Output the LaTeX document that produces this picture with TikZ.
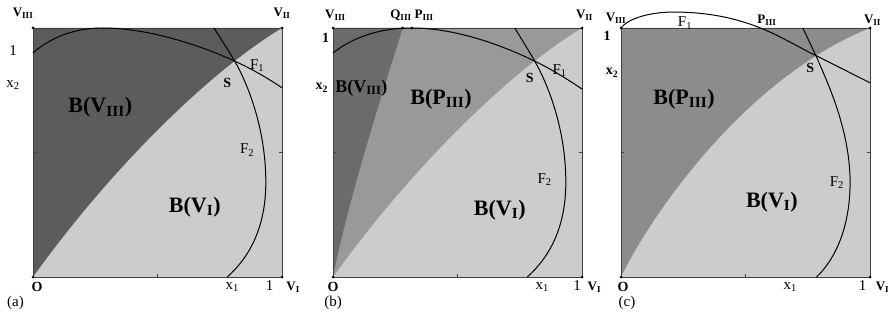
\documentclass[tikz,border=0pt]{standalone}
\usepackage{fontspec}
\setmainfont{Liberation Serif}
\newcommand{\ssub}[1]{\textsubscript{#1}}
\definecolor{lightreg}{gray}{0.8}
\definecolor{darkreg}{gray}{0.36}
\definecolor{bdarkreg}{gray}{0.42}
\definecolor{midreg}{gray}{0.6}
\definecolor{creg}{gray}{0.55}
\begin{document}
\begin{tikzpicture}[
  lbl/.style={font=\fontsize{15}{17}\selectfont, inner sep=0pt},
  blbl/.style={font=\fontsize{14}{16}\selectfont\bfseries, inner sep=0pt},
  vlbl/.style={font=\fontsize{13}{15}\selectfont\bfseries, inner sep=0pt},
  big/.style={font=\fontsize{22}{24}\selectfont\bfseries, inner sep=0pt},
  midbig/.style={font=\fontsize{18}{20}\selectfont\bfseries, inner sep=0pt},
  sqframe/.style={draw=black!75, line width=0.6pt},
  crv/.style={line width=1pt},
  dot/.style={circle, fill, inner sep=0pt, minimum size=3pt}]
  \useasboundingbox (0,0) rectangle (888pt,324pt);

  % (a)
  \begin{scope}[shift={(33pt,47pt)}, x=249pt, y=249pt]
    \fill[lightreg] (0,0) rectangle (1,1);
    \fill[darkreg] (0,0) .. controls (0.3,0.42) and (0.7,0.82) .. (1,1) -- (0,1) -- cycle;
    \draw[sqframe] (0,0) rectangle (1,1);
    \draw[sqframe] (0.5,0) -- ++(0,3pt) (0,0.5) -- ++(3pt,0) (1,0.5) -- ++(-3pt,0);
    \draw[crv] (0,0.90) .. controls (0.08,0.97) and (0.18,1) .. (0.28,1)
      .. controls (0.45,1) and (0.65,0.94) .. (0.81,0.867)
      .. controls (0.88,0.835) and (0.94,0.8) .. (1,0.76);
    \draw[crv] (0.727,1) .. controls (0.755,0.955) and (0.785,0.91) .. (0.81,0.867)
      .. controls (0.86,0.78) and (0.935,0.6) .. (0.935,0.38)
      .. controls (0.935,0.2) and (0.87,0.08) .. (0.78,0);
    \node[dot] (aO) at (0,0) {};
    \node[dot] (aVI) at (1,0) {};
    \node[dot] (aVII) at (1,1) {};
    \node[dot] (aVIII) at (0,1) {};
    \node[vlbl] (aVIIIl) at (-0.04,1.06) {V\ssub{III}};
    \node[vlbl] (aVIIl) at (1.0,1.06) {V\ssub{II}};
    \node[lbl] (aone) at (-0.08,0.91) {1};
    \node[lbl] (axtwo) at (-0.08,0.77) {x\ssub{2}};
    \node[big] (aBVIII) at (0.27,0.68) {B(V\ssub{III})};
    \node[blbl] (aS) at (0.78,0.78) {S};
    \node[lbl] (aFone) at (0.90,0.85) {F\ssub{1}};
    \node[lbl] (aFtwo) at (0.86,0.51) {F\ssub{2}};
    \node[big] (aBVI) at (0.65,0.28) {B(V\ssub{I})};
    \node[blbl] (aOl) at (0.016,-0.04) {O};
    \node[lbl] (acap) at (-0.07,-0.105) {(a)};
    \node[lbl] (axone) at (0.80,-0.04) {x\ssub{1}};
    \node[lbl] (aonex) at (0.95,-0.035) {1};
    \node[vlbl] (aVIl) at (1.045,-0.04) {V\ssub{I}};
  \end{scope}

  % (b)
  \begin{scope}[shift={(333pt,47pt)}, x=249pt, y=249pt]
    \fill[lightreg] (0,0) rectangle (1,1);
    \fill[midreg] (0,0) .. controls (0.3,0.42) and (0.7,0.82) .. (1,1) -- (0,1) -- cycle;
    \fill[bdarkreg] (0,0) .. controls (0.06,0.3) and (0.17,0.65) .. (0.28,1) -- (0,1) -- cycle;
    \draw[sqframe] (0,0) rectangle (1,1);
    \draw[sqframe] (0.5,0) -- ++(0,3pt) (0,0.5) -- ++(3pt,0) (1,0.5) -- ++(-3pt,0);
    \draw[crv] (0,0.90) .. controls (0.09,0.97) and (0.2,1) .. (0.317,1)
      .. controls (0.48,1) and (0.66,0.94) .. (0.81,0.867)
      .. controls (0.88,0.833) and (0.94,0.795) .. (1,0.755);
    \draw[crv] (0.73,1) .. controls (0.757,0.955) and (0.786,0.91) .. (0.81,0.867)
      .. controls (0.86,0.78) and (0.935,0.6) .. (0.935,0.38)
      .. controls (0.935,0.2) and (0.87,0.08) .. (0.78,0);
    \node[dot] (bO) at (0,0) {};
    \node[dot] (bVI) at (1,0) {};
    \node[dot] (bVII) at (1,1) {};
    \node[dot] (bVIII) at (0,1) {};
    \node[dot] (bQ) at (0.28,1) {};
    \node[dot] (bP) at (0.317,1) {};
    \node[vlbl] (bVIIIl) at (0.01,1.05) {V\ssub{III}};
    \node[vlbl] (bQl) at (0.273,1.05) {Q\ssub{III}};
    \node[vlbl] (bPl) at (0.366,1.05) {P\ssub{III}};
    \node[vlbl] (bVIIl) at (1.01,1.05) {V\ssub{II}};
    \node[blbl] (bone) at (-0.03,0.96) {1};
    \node[blbl] (bxtwo) at (-0.045,0.76) {x\ssub{2}};
    \node[midbig] (bBVIII) at (0.114,0.76) {B(V\ssub{III})};
    \node[big] (bBPIII) at (0.434,0.715) {B(P\ssub{III})};
    \node[blbl] (bS) at (0.79,0.80) {S};
    \node[lbl] (bFone) at (0.91,0.83) {F\ssub{1}};
    \node[lbl] (bFtwo) at (0.85,0.39) {F\ssub{2}};
    \node[big] (bBVI) at (0.67,0.27) {B(V\ssub{I})};
    \node[blbl] (bOl) at (0,-0.04) {O};
    \node[lbl] (bcap) at (0,-0.105) {(b)};
    \node[lbl] (bxone) at (0.84,-0.04) {x\ssub{1}};
    \node[lbl] (bonex) at (0.98,-0.035) {1};
    \node[vlbl] (bVIl) at (1.05,-0.04) {V\ssub{I}};
  \end{scope}

  % (c)
  \begin{scope}[shift={(621pt,47pt)}, x=249pt, y=249pt]
    \fill[lightreg] (0,0) rectangle (1,1);
    \fill[creg] (0,0) .. controls (0.12,0.25) and (0.5,0.8) .. (1,1) -- (0,1) -- cycle;
    \draw[sqframe] (0,0) rectangle (1,1);
    \draw[sqframe] (0.5,0) -- ++(0,3pt) (0,0.5) -- ++(3pt,0) (1,0.5) -- ++(-3pt,0);
    \draw[crv] (0,1) .. controls (0.03,1.04) and (0.12,1.064) .. (0.21,1.064)
      .. controls (0.35,1.064) and (0.46,1.04) .. (0.56,1)
      .. controls (0.64,0.968) and (0.71,0.925) .. (0.783,0.889)
      .. controls (0.86,0.851) and (0.93,0.815) .. (1,0.78);
    \draw[crv] (0.73,1) .. controls (0.75,0.96) and (0.765,0.925) .. (0.783,0.889)
      .. controls (0.82,0.8) and (0.92,0.6) .. (0.92,0.38)
      .. controls (0.92,0.2) and (0.86,0.07) .. (0.785,0);
    \node[dot] (cO) at (0,0) {};
    \node[dot] (cVI) at (1,0) {};
    \node[dot] (cVII) at (1,1) {};
    \node[dot] (cVIII) at (0,1) {};
    \node[vlbl] (cVIIIl) at (-0.02,1.04) {V\ssub{III}};
    \node[lbl] (cFone) at (0.257,1.02) {F\ssub{1}};
    \node[vlbl] (cPl) at (0.586,1.03) {P\ssub{III}};
    \node[vlbl] (cVIIl) at (1.01,1.03) {V\ssub{II}};
    \node[blbl] (cone) at (-0.056,0.97) {1};
    \node[blbl] (cxtwo) at (-0.036,0.82) {x\ssub{2}};
    \node[big] (cBPIII) at (0.253,0.715) {B(P\ssub{III})};
    \node[blbl] (cS) at (0.76,0.84) {S};
    \node[lbl] (cFtwo) at (0.867,0.38) {F\ssub{2}};
    \node[big] (cBVI) at (0.606,0.30) {B(V\ssub{I})};
    \node[blbl] (cOl) at (0.008,-0.04) {O};
    \node[lbl] (ccap) at (0.024,-0.105) {(c)};
    \node[lbl] (cxone) at (0.68,-0.04) {x\ssub{1}};
    \node[lbl] (conex) at (0.97,-0.035) {1};
    \node[vlbl] (cVIl) at (1.05,-0.04) {V\ssub{I}};
  \end{scope}
\end{tikzpicture}
\end{document}
